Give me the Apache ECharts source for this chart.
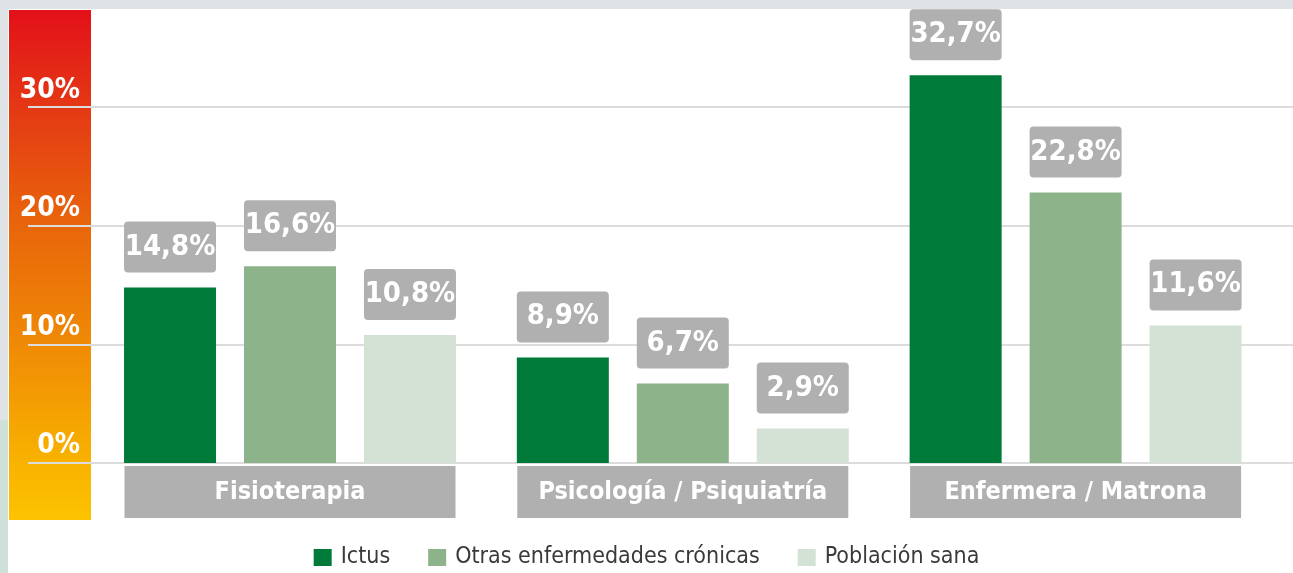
<!DOCTYPE html>
<html>
<head>
<meta charset="utf-8">
<script src="https://cdn.jsdelivr.net/npm/echarts@6/dist/echarts.min.js"></script>
<style>
  html, body { margin: 0; padding: 0; background: #fff; }
  #chart { width: 1293px; height: 573px; }
</style>
</head>
<body>
<div id="chart"></div>
<script>
// datos
const categories = ['Fisioterapia', 'Psicología / Psiquiatría', 'Enfermera / Matrona'];
const ictus = [14.8, 8.9, 32.7];
const otras = [16.6, 6.7, 22.8];
const sana = [10.8, 2.9, 11.6];
const seriesNames = ['Ictus', 'Otras enfermedades crónicas', 'Población sana'];
const yTicks = [0, 10, 20, 30];

const font = '"Liberation Sans Narrow", "DejaVu Sans Condensed", "Roboto", sans-serif';
const colors = ['#007a38', '#8db38b', '#d3e2d4'];
const yMax = 38.2;

const chart = echarts.init(document.getElementById('chart'));

function valueLabel() {
    return {
        show: true,
        position: 'top',
        distance: 15,
        formatter: function (p) {
            return p.value.toFixed(1).replace('.', ',') + '%';
        },
        backgroundColor: '#b0b0b0',
        borderRadius: 4,
        width: 92,
        height: 51,
        lineHeight: 51,
        align: 'center',
        color: '#fff',
        fontSize: 29,
        fontWeight: 'bold',
        fontFamily: font
    };
}

const barData = [ictus, otras, sana];

chart.setOption({
    backgroundColor: '#fff',
    animation: false,
    graphic: [
        { type: 'rect', z: -10, shape: { x: 0, y: 0, width: 1293, height: 9 }, style: { fill: '#dfe3e6' } },
        { type: 'rect', z: -10, shape: { x: 0, y: 0, width: 8, height: 420 }, style: { fill: '#dfe3e6' } },
        { type: 'rect', z: -10, shape: { x: 0, y: 420, width: 8, height: 153 }, style: { fill: '#cfe0d9' } },
        {
            type: 'rect', z: -5,
            shape: { x: 9, y: 10, width: 82, height: 510 },
            style: {
                fill: new echarts.graphic.LinearGradient(0, 0, 0, 1, [
                    { offset: 0, color: '#e31019' },
                    { offset: 0.2, color: '#e43a14' },
                    { offset: 0.4, color: '#e8620c' },
                    { offset: 0.65, color: '#ef8905' },
                    { offset: 0.88, color: '#f8b100' },
                    { offset: 1, color: '#fdc300' }
                ])
            }
        }
    ],
    legend: {
        data: seriesNames,
        top: 541,
        left: 'center',
        icon: 'rect',
        itemWidth: 18,
        itemHeight: 17,
        itemGap: 38,
        textStyle: { fontSize: 23, color: '#3a3a3a', fontFamily: font, padding: [0, 0, 0, 4] }
    },
    grid: [
        { left: 28, right: 0, top: 10, bottom: 110 },
        { left: 93.6, right: 21, top: 10, bottom: 110 }
    ],
    xAxis: [
        { type: 'category', gridIndex: 0, data: categories, show: false },
        {
            type: 'category', gridIndex: 1, data: categories,
            axisLine: { show: false },
            axisTick: { show: false },
            axisLabel: {
                interval: 0,
                margin: 3,
                backgroundColor: '#b0b0b0',
                width: 331,
                height: 52,
                lineHeight: 52,
                align: 'center',
                color: '#fff',
                fontSize: 25,
                fontWeight: 'bold',
                fontFamily: font
            }
        }
    ],
    yAxis: [
        {
            type: 'value', gridIndex: 0, min: 0, max: yMax, interval: 10,
            axisLine: { show: false },
            axisTick: { show: false },
            splitLine: { showMaxLine: false, lineStyle: { color: '#dcdcdc', width: 2 } },
            axisLabel: {
                showMaxLabel: false,
                margin: -52,
                verticalAlign: 'bottom',
                padding: [0, 0, 3, 0],
                color: '#fff',
                fontSize: 28,
                fontWeight: 'bold',
                fontFamily: font,
                formatter: function (v) {
                    return yTicks.indexOf(v) >= 0 ? v + '%' : '';
                }
            }
        },
        { type: 'value', gridIndex: 1, min: 0, max: yMax, interval: 10, show: false }
    ],
    series: seriesNames.map(function (name, i) {
        return {
            name: name,
            type: 'bar',
            xAxisIndex: 1,
            yAxisIndex: 1,
            data: barData[i],
            barWidth: 92,
            barGap: '30.4%',
            itemStyle: { color: colors[i] },
            label: valueLabel()
        };
    })
});
</script>
</body>
</html>
